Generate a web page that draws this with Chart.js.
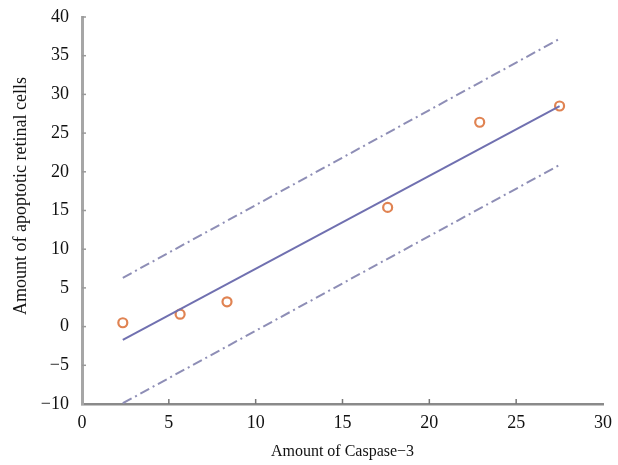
<!DOCTYPE html>
<html>
<head>
<meta charset="utf-8">
<script src="https://cdn.jsdelivr.net/npm/chart.js@4"></script>
<style>
html,body{margin:0;padding:0;background:#fff;}
#wrap{width:618px;height:465px;}
</style>
</head>
<body>
<div id="wrap"><canvas id="c" width="618" height="465"></canvas></div>
<script>
// Observed data
const caspaseX = [2.35, 5.65, 8.35, 17.6, 22.9, 27.5];
const apoptoticY = [0.5, 1.6, 3.2, 15.4, 26.4, 28.5];
// Regression fit and prediction bands (endpoints)
const fitX = [2.35, 27.5];
const fitY = [-1.7, 28.5];
const upperX = [2.35, 27.6];
const upperY = [6.3, 37.3];
const lowerX = [2.35, 27.6];
const lowerY = [-9.9, 21.0];
// Tick labels
const xTicks = [0, 5, 10, 15, 20, 25, 30];
const yTicks = [-10, -5, 0, 5, 10, 15, 20, 25, 30, 35, 40];
const xTitle = 'Amount of Caspase\u22123';
const yTitle = 'Amount of apoptotic retinal cells';

const toPts = (xs, ys) => xs.map((x, i) => ({x: x, y: ys[i]}));
const fmt = v => (v < 0 ? '\u2212' + Math.abs(v) : String(v));

const innerTicks = {
  id: 'innerTicks',
  afterDraw(chart) {
    const ctx = chart.ctx;
    const xs = chart.scales.x, ys = chart.scales.y;
    const a = chart.chartArea;
    ctx.save();
    ctx.strokeStyle = '#777';
    ctx.lineWidth = 1.5;
    xTicks.forEach(v => {
      if (v === 0 || v === 30) return;
      const px = xs.getPixelForValue(v);
      ctx.beginPath();
      ctx.moveTo(px, a.bottom);
      ctx.lineTo(px, a.bottom - 5);
      ctx.stroke();
    });
    ctx.strokeStyle = '#999';
    yTicks.forEach(v => {
      if (v === -10) return;
      const py = ys.getPixelForValue(v);
      ctx.beginPath();
      ctx.moveTo(a.left, py);
      ctx.lineTo(a.left + 4, py);
      ctx.stroke();
    });
    // y-axis title (placed as in the reference, slightly above centre)
    ctx.fillStyle = '#111';
    ctx.font = '18px "Liberation Serif"';
    ctx.textAlign = 'center';
    ctx.textBaseline = 'middle';
    ctx.translate(21, 196);
    ctx.rotate(-Math.PI / 2);
    ctx.fillText(yTitle, 0, 0);
    ctx.restore();
  }
};

const bandStyle = {
  type: 'line',
  borderColor: '#8e8eb6',
  borderWidth: 2,
  borderDash: [10, 4, 2, 4],
  pointRadius: 0,
  fill: false,
  showLine: true
};

new Chart(document.getElementById('c'), {
  type: 'scatter',
  data: {
    datasets: [
      Object.assign({label: 'upper', data: toPts(upperX, upperY)}, bandStyle),
      Object.assign({label: 'lower', data: toPts(lowerX, lowerY)}, bandStyle),
      {
        type: 'line', label: 'fit', data: toPts(fitX, fitY),
        borderColor: '#7070b0', borderWidth: 2, pointRadius: 0, fill: false, showLine: true
      },
      {
        label: 'observed', data: toPts(caspaseX, apoptoticY),
        pointStyle: 'circle', pointRadius: 4.5, pointBorderWidth: 2.2,
        borderColor: '#e08352', backgroundColor: '#fff',
        pointBackgroundColor: '#fff', pointBorderColor: '#e08352'
      }
    ]
  },
  options: {
    responsive: false,
    animation: false,
    layout: {padding: {top: 17, right: 15, left: 0, bottom: 0}},
    plugins: {legend: {display: false}, tooltip: {enabled: false}},
    scales: {
      x: {
        type: 'linear', min: 0, max: 30,
        afterBuildTicks: s => { s.ticks = xTicks.map(v => ({value: v})); },
        afterFit: s => { s.height = 61; s.paddingLeft = 0; s.paddingRight = 0; },
        grid: {display: true, drawOnChartArea: false, drawTicks: false},
        border: {display: true, color: '#8a8a8a', width: 2.5},
        ticks: {
          callback: v => fmt(v), padding: 8, maxRotation: 0,
          color: '#111', font: {family: 'Liberation Serif', size: 18}
        },
        title: {
          display: true, text: xTitle, color: '#111', padding: {top: 6},
          font: {family: 'Liberation Serif', size: 16}
        }
      },
      y: {
        type: 'linear', min: -10, max: 40,
        afterBuildTicks: s => { s.ticks = yTicks.map(v => ({value: v})); },
        afterFit: s => { s.width = 82; s.paddingTop = 0; s.paddingBottom = 0; },
        grid: {display: true, drawOnChartArea: false, drawTicks: false},
        border: {display: true, color: '#a6a6a6', width: 3},
        ticks: {
          callback: v => fmt(v), padding: 13,
          color: '#111', font: {family: 'Liberation Serif', size: 18}
        },
        title: {display: false}
      }
    }
  },
  plugins: [innerTicks]
});
</script>
</body>
</html>
